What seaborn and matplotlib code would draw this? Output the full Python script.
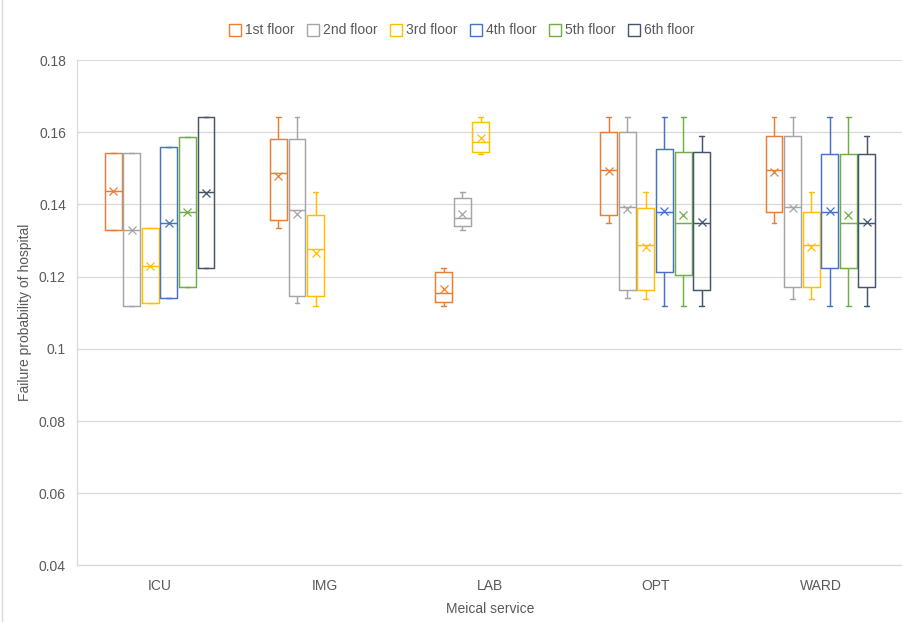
import numpy as np
import pandas as pd
import matplotlib
matplotlib.use("Agg")
import matplotlib.pyplot as plt
from matplotlib.lines import Line2D
from matplotlib.ticker import FuncFormatter, MultipleLocator
import seaborn as sns

# Medical services (x categories) and floors (series)
services = ["ICU", "IMG", "LAB", "OPT", "WARD"]
floors = ["1st floor", "2nd floor", "3rd floor", "4th floor", "5th floor", "6th floor"]
floor_colors = ["#ED7D31", "#A5A5A5", "#FFC000", "#4472C4", "#70AD47", "#44546A"]

nan = np.nan
# Box-and-whisker statistics, one row per floor, one column per service
whisker_low = [
    [0.1329, 0.1336, 0.1120, 0.1349, 0.1349],
    [0.1120, 0.1126, 0.1329, 0.1140, 0.1138],
    [0.1126, 0.1120, 0.1540, 0.1138, 0.1138],
    [0.1140, nan, nan, 0.1120, 0.1120],
    [0.1170, nan, nan, 0.1120, 0.1120],
    [0.1225, nan, nan, 0.1120, 0.1120],
]
quartile_1 = [
    [0.1329, 0.1357, 0.1129, 0.1371, 0.1378],
    [0.1120, 0.1147, 0.1339, 0.1162, 0.1170],
    [0.1126, 0.1147, 0.1545, 0.1162, 0.1170],
    [0.1140, nan, nan, 0.1212, 0.1225],
    [0.1170, nan, nan, 0.1205, 0.1225],
    [0.1225, nan, nan, 0.1162, 0.1170],
]
median = [
    [0.1437, 0.1488, 0.1154, 0.1496, 0.1496],
    [0.1330, 0.1385, 0.1363, 0.1392, 0.1394],
    [0.1230, 0.1277, 0.1574, 0.1287, 0.1287],
    [0.1349, nan, nan, 0.1378, 0.1378],
    [0.1378, nan, nan, 0.1349, 0.1349],
    [0.1435, nan, nan, 0.1349, 0.1349],
]
quartile_3 = [
    [0.1542, 0.1581, 0.1212, 0.1602, 0.1589],
    [0.1542, 0.1581, 0.1419, 0.1602, 0.1589],
    [0.1336, 0.1371, 0.1629, 0.1391, 0.1378],
    [0.1559, nan, nan, 0.1553, 0.1541],
    [0.1588, nan, nan, 0.1546, 0.1541],
    [0.1642, nan, nan, 0.1546, 0.1541],
]
whisker_high = [
    [0.1542, 0.1642, 0.1225, 0.1642, 0.1642],
    [0.1542, 0.1642, 0.1434, 0.1642, 0.1642],
    [0.1336, 0.1434, 0.1642, 0.1434, 0.1434],
    [0.1559, nan, nan, 0.1642, 0.1642],
    [0.1588, nan, nan, 0.1642, 0.1642],
    [0.1642, nan, nan, 0.1589, 0.1589],
]
mean = [
    [0.1437, 0.1478, 0.1165, 0.1493, 0.1491],
    [0.1330, 0.1373, 0.1373, 0.1388, 0.1389],
    [0.1230, 0.1266, 0.1583, 0.1282, 0.1282],
    [0.1349, nan, nan, 0.1383, 0.1383],
    [0.1378, nan, nan, 0.1371, 0.1371],
    [0.1432, nan, nan, 0.1352, 0.1352],
]

# Long table: the five-number summary of each box as its sample
rows = []
for j, fl in enumerate(floors):
    for i, sv in enumerate(services):
        stats = [whisker_low[j][i], quartile_1[j][i], median[j][i],
                 quartile_3[j][i], whisker_high[j][i]]
        if np.isnan(stats[2]):
            continue
        for v in stats:
            rows.append({"service": sv, "floor": fl, "value": v})
df = pd.DataFrame(rows)

sns.set_theme(style="white")
plt.rcParams["font.family"] = ["Liberation Sans", "DejaVu Sans"]
text_color = "#595959"
grid_color = "#D9D9D9"

fig = plt.figure(figsize=(9.03, 6.22), dpi=100)
ax = fig.add_axes([0.0853, 0.091, 0.9147, 0.8124])

group_width = 0.674
sns.boxplot(
    data=df, x="service", y="value", hue="floor",
    order=services, hue_order=floors, palette=floor_colors,
    fill=False, width=group_width, gap=0.086, whis=np.inf,
    linewidth=1.05, legend=False, capwidths=0.03, ax=ax,
)

# Mean markers at the dodged slot of each floor
slot = group_width / len(floors)
for j, fl in enumerate(floors):
    for i in range(len(services)):
        m = mean[j][i]
        if np.isnan(m):
            continue
        ax.plot(i + (j - (len(floors) - 1) / 2) * slot, m, marker="x",
                color=floor_colors[j], markersize=6, markeredgewidth=0.9,
                zorder=5)

ax.set_ylim(0.04, 0.18)
ax.set_xlim(-0.5, len(services) - 0.5)
ax.yaxis.set_major_locator(MultipleLocator(0.02))
ax.yaxis.set_major_formatter(FuncFormatter(lambda v, p: f"{round(v, 2):g}"))
ax.grid(axis="y", color=grid_color, linewidth=0.9)
ax.set_axisbelow(True)
for side in ["top", "right"]:
    ax.spines[side].set_visible(False)
for side in ["left", "bottom"]:
    ax.spines[side].set_color(grid_color)
    ax.spines[side].set_linewidth(0.9)
ax.tick_params(axis="y", length=0, pad=8, labelsize=10, labelcolor=text_color)
ax.tick_params(axis="x", length=0, pad=10, labelsize=10, labelcolor=text_color)

ax.set_xlabel("Meical service", fontsize=10, color=text_color, labelpad=6)
ax.set_ylabel("Failure probability of hospital", fontsize=10,
              color=text_color, labelpad=5)

handles = [Line2D([], [], linestyle="none", marker="s", markersize=8,
                  markerfacecolor="white", markeredgecolor=c,
                  markeredgewidth=1.0) for c in floor_colors]
fig.legend(handles, floors, loc="center", bbox_to_anchor=(0.511, 0.951),
           ncol=6, frameon=False, fontsize=10, handletextpad=0.2,
           columnspacing=0.85, handlelength=1.0, labelcolor=text_color)

# Chart-area border on the left edge
fig.add_artist(Line2D([0.002, 0.002], [0, 1], transform=fig.transFigure,
                      color=grid_color, linewidth=1.0))

fig.savefig("out.png", dpi=100)
